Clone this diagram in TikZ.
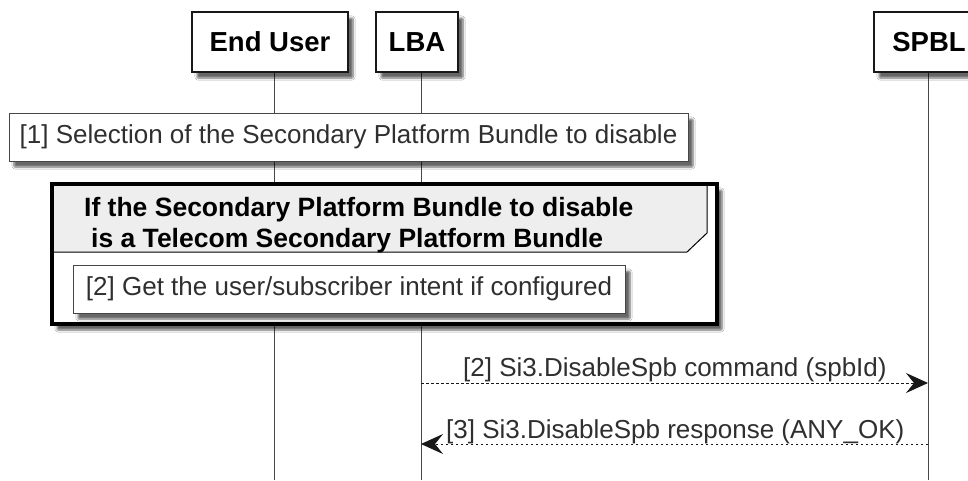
\documentclass[tikz,border=0pt]{standalone}
\usepackage{fontspec}
\setmainfont{Liberation Sans}
\usetikzlibrary{arrows.meta,shadows.blur}
\definecolor{lineg}{HTML}{181818}
\definecolor{hdrg}{HTML}{EEEEEE}
\tikzset{
  shad/.style={blur shadow={shadow xshift=5pt,shadow yshift=-6pt,shadow blur steps=6,shadow blur extra rounding=1pt,shadow opacity=60}},
  part/.style={draw=lineg,line width=1.6pt,fill=white,shad,font=\bfseries\fontsize{27.5}{32}\selectfont,inner sep=0pt},
  notebox/.style={draw=lineg!80,line width=1pt,fill=white,shad,font=\fontsize{26}{30}\selectfont,inner sep=0pt,text=lineg!90},
  life/.style={draw=lineg!80,line width=1pt},
  msg/.style={draw=lineg,line width=1pt,dash pattern=on 2.5pt off 2.5pt,-{Stealth[length=22pt,width=20pt,inset=8pt]}},
  msgtxt/.style={font=\fontsize{26}{30}\selectfont,inner sep=0pt,text=lineg!90},
}
\begin{document}
\begin{tikzpicture}[x=1pt,y=-1pt]
\useasboundingbox[fill=white] (0,0) rectangle (968,480);
% lifelines
\coordinate (euT) at (274,72); \coordinate (euB) at (274,480);
\coordinate (lbaT) at (421,72); \coordinate (lbaB) at (421,480);
\coordinate (spT) at (928,72); \coordinate (spB) at (928,480);
\draw[life] (euT) -- (euB);
\draw[life] (lbaT) -- (lbaB);
\draw[life] (spT) -- (spB);
% participants
\node[part,minimum width=156pt,minimum height=60pt] (eu) at (270,42) {End User};
\node[part,minimum width=82pt,minimum height=60pt] (lba) at (417,42) {LBA};
\node[part,minimum width=110pt,minimum height=60pt] (sp) at (929,42) {SPBL};
% note 1
\node[notebox,minimum width=679pt,minimum height=48pt] (n1) at (348.5,137) {[1] Selection of the Secondary Platform Bundle to disable};
% group
\coordinate (gTL) at (52,184); \coordinate (gBR) at (717,324);
\fill[white,shad] (gTL) rectangle (gBR);
\path[fill=hdrg,draw=black,line width=1pt] (52,184) -- (707,184) -- (707,233) -- (687,252) -- (52,252) -- cycle;
\draw[black,line width=3.5pt] (gTL) rectangle (gBR);
\node[font=\bfseries\fontsize{26.5}{31}\selectfont,align=left,inner sep=0pt,anchor=north west] (gt) at (84,197) {If the Secondary Platform Bundle to disable\\\hspace*{7pt}is a Telecom Secondary Platform Bundle};
% note 2
\node[notebox,minimum width=552pt,minimum height=48pt] (n2) at (349,289) {[2] Get the user/subscriber intent if configured};
% messages
\coordinate (m1a) at (421,383); \coordinate (m1b) at (928,383);
\draw[msg] (m1a) -- (m1b);
\node[msgtxt,anchor=base west] (m1t) at (463,376) {[2] Si3.DisableSpb command (spbId)};
\coordinate (m2a) at (928,444); \coordinate (m2b) at (421,444);
\draw[msg] (m2a) -- (m2b);
\node[msgtxt,anchor=base west] (m2t) at (446,438) {[3] Si3.DisableSpb response (ANY\_OK)};
\end{tikzpicture}
\end{document}
